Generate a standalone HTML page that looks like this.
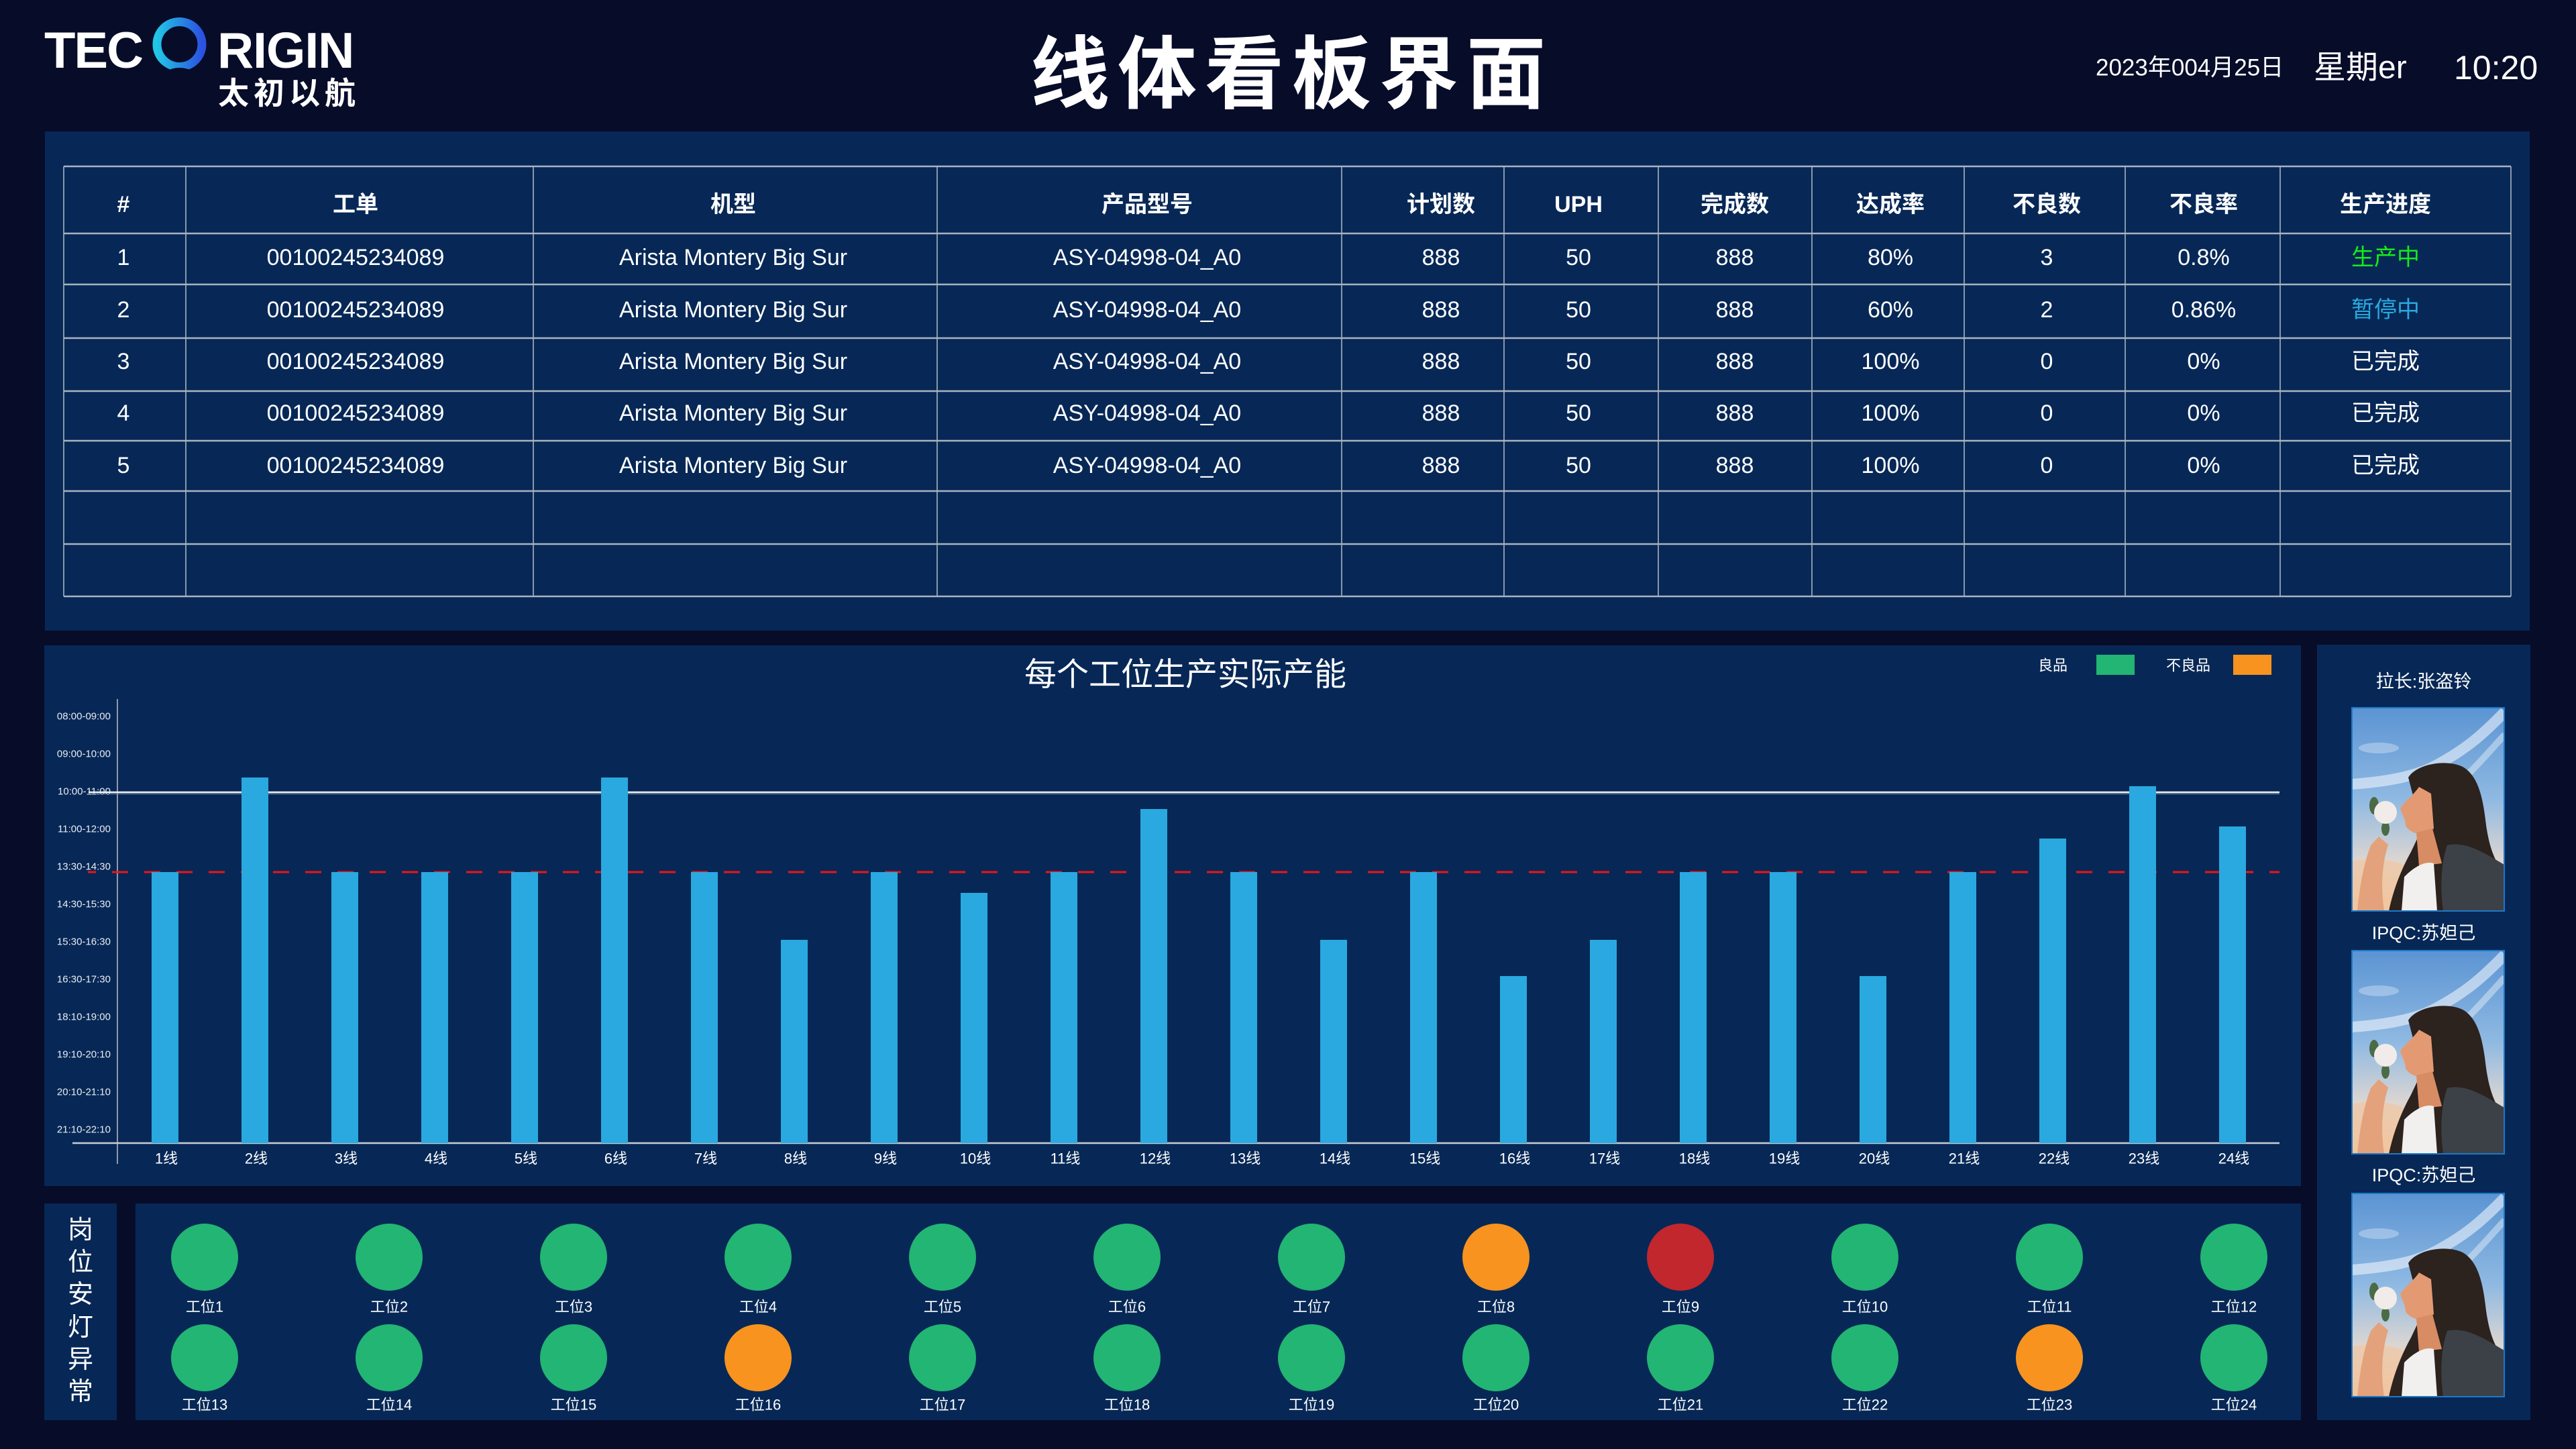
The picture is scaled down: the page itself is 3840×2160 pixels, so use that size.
<!DOCTYPE html>
<html>
<head>
<meta charset="utf-8">
<style>
html,body{margin:0;padding:0;background:#070c29;width:3840px;height:2160px;overflow:hidden;}
svg{display:block;}
text{font-family:"Liberation Sans","Noto Sans CJK SC",sans-serif;}
</style>
</head>
<body>
<svg width="3840" height="2160" viewBox="0 0 3840 2160" xmlns="http://www.w3.org/2000/svg">
<defs>
  <linearGradient id="ring" x1="0" y1="0" x2="1" y2="0">
    <stop offset="0" stop-color="#22c6e6"/>
    <stop offset="1" stop-color="#2b52e0"/>
  </linearGradient>
  <linearGradient id="sky" x1="0" y1="0" x2="0" y2="1">
    <stop offset="0" stop-color="#5b94d3"/>
    <stop offset="0.45" stop-color="#8fb9e2"/>
    <stop offset="0.75" stop-color="#dcd6d2"/>
    <stop offset="1" stop-color="#f0c59d"/>
  </linearGradient>
  <clipPath id="pc"><rect x="0" y="0" width="227" height="303"/></clipPath>
</defs>

<rect x="0" y="0" width="3840" height="2160" fill="#070c29"/>

<!-- panels -->
<rect x="67" y="196" width="3704" height="744" fill="#072856"/>
<rect x="66" y="962" width="3364" height="806" fill="#072856"/>
<rect x="3454" y="961" width="318" height="1156" fill="#072856"/>
<rect x="66" y="1794" width="108" height="323" fill="#072856"/>
<rect x="202" y="1794" width="3228" height="323" fill="#072856"/>

<!-- logo -->
<text x="66" y="101" font-size="76" font-weight="bold" fill="#ffffff" letter-spacing="-2">TEC</text>
<circle cx="267.5" cy="66" r="33.5" fill="none" stroke="url(#ring)" stroke-width="13"/>
<ellipse cx="267.5" cy="123" rx="30" ry="22" fill="#070c29"/>
<text x="324" y="101" font-size="75" font-weight="bold" fill="#ffffff" letter-spacing="-1">RIGIN</text>
<text x="325" y="139" font-size="46" font-weight="bold" fill="#ffffff" letter-spacing="7" dominant-baseline="central">太初以航</text>

<!-- title -->
<text x="1926" y="112" font-size="118" font-weight="bold" fill="#ffffff" letter-spacing="12" text-anchor="middle" dominant-baseline="central">线体看板界面</text>

<!-- date/time -->
<text x="3124" y="101" font-size="35" fill="#ffffff" dominant-baseline="central">2023年004月25日</text>
<text x="3449" y="101" font-size="48" fill="#ffffff" dominant-baseline="central">星期er</text>
<text x="3658" y="101" font-size="50" fill="#ffffff" dominant-baseline="central">10:20</text>

<!-- table lines -->
<g stroke="#b4bcc9" stroke-width="1.5">
  <line x1="95" y1="248" x2="95" y2="889"/>
  <line x1="277" y1="248" x2="277" y2="889"/>
  <line x1="795" y1="248" x2="795" y2="889"/>
  <line x1="1397" y1="248" x2="1397" y2="889"/>
  <line x1="2000" y1="248" x2="2000" y2="889"/>
  <line x1="2242" y1="248" x2="2242" y2="889"/>
  <line x1="2472" y1="248" x2="2472" y2="889"/>
  <line x1="2701" y1="248" x2="2701" y2="889"/>
  <line x1="2928" y1="248" x2="2928" y2="889"/>
  <line x1="3168" y1="248" x2="3168" y2="889"/>
  <line x1="3399" y1="248" x2="3399" y2="889"/>
  <line x1="3743" y1="248" x2="3743" y2="889"/>
</g>
<g stroke="#a9b2c1" stroke-width="2.5">
  <line x1="95" y1="248" x2="3743" y2="248"/>
  <line x1="95" y1="348" x2="3743" y2="348"/>
  <line x1="95" y1="424" x2="3743" y2="424"/>
  <line x1="95" y1="504" x2="3743" y2="504"/>
  <line x1="95" y1="583" x2="3743" y2="583"/>
  <line x1="95" y1="657" x2="3743" y2="657"/>
  <line x1="95" y1="732" x2="3743" y2="732"/>
  <line x1="95" y1="811" x2="3743" y2="811"/>
  <line x1="95" y1="889" x2="3743" y2="889"/>
</g>

<!-- table header -->
<g font-size="34" font-weight="bold" fill="#ffffff" text-anchor="middle" dominant-baseline="central">
  <text x="184" y="305">#</text>
  <text x="530" y="305">工单</text>
  <text x="1093" y="305">机型</text>
  <text x="1710" y="305">产品型号</text>
  <text x="2148" y="305">计划数</text>
  <text x="2353" y="305">UPH</text>
  <text x="2586" y="305">完成数</text>
  <text x="2818" y="305">达成率</text>
  <text x="3051" y="305">不良数</text>
  <text x="3285" y="305">不良率</text>
  <text x="3556" y="305">生产进度</text>
</g>

<!-- table body -->
<g font-size="34" fill="#ffffff" text-anchor="middle" dominant-baseline="central">
  <text x="184" y="384">1</text>
  <text x="530" y="384">00100245234089</text>
  <text x="1093" y="384">Arista Montery Big Sur</text>
  <text x="1710" y="384">ASY-04998-04_A0</text>
  <text x="2148" y="384">888</text>
  <text x="2353" y="384">50</text>
  <text x="2586" y="384">888</text>
  <text x="2818" y="384">80%</text>
  <text x="3051" y="384">3</text>
  <text x="3285" y="384">0.8%</text>
  <text x="3556" y="384" fill="#16ec16">生产中</text>

  <text x="184" y="462">2</text>
  <text x="530" y="462">00100245234089</text>
  <text x="1093" y="462">Arista Montery Big Sur</text>
  <text x="1710" y="462">ASY-04998-04_A0</text>
  <text x="2148" y="462">888</text>
  <text x="2353" y="462">50</text>
  <text x="2586" y="462">888</text>
  <text x="2818" y="462">60%</text>
  <text x="3051" y="462">2</text>
  <text x="3285" y="462">0.86%</text>
  <text x="3556" y="462" fill="#29a9e0">暂停中</text>

  <text x="184" y="539">3</text>
  <text x="530" y="539">00100245234089</text>
  <text x="1093" y="539">Arista Montery Big Sur</text>
  <text x="1710" y="539">ASY-04998-04_A0</text>
  <text x="2148" y="539">888</text>
  <text x="2353" y="539">50</text>
  <text x="2586" y="539">888</text>
  <text x="2818" y="539">100%</text>
  <text x="3051" y="539">0</text>
  <text x="3285" y="539">0%</text>
  <text x="3556" y="539">已完成</text>

  <text x="184" y="616">4</text>
  <text x="530" y="616">00100245234089</text>
  <text x="1093" y="616">Arista Montery Big Sur</text>
  <text x="1710" y="616">ASY-04998-04_A0</text>
  <text x="2148" y="616">888</text>
  <text x="2353" y="616">50</text>
  <text x="2586" y="616">888</text>
  <text x="2818" y="616">100%</text>
  <text x="3051" y="616">0</text>
  <text x="3285" y="616">0%</text>
  <text x="3556" y="616">已完成</text>

  <text x="184" y="694">5</text>
  <text x="530" y="694">00100245234089</text>
  <text x="1093" y="694">Arista Montery Big Sur</text>
  <text x="1710" y="694">ASY-04998-04_A0</text>
  <text x="2148" y="694">888</text>
  <text x="2353" y="694">50</text>
  <text x="2586" y="694">888</text>
  <text x="2818" y="694">100%</text>
  <text x="3051" y="694">0</text>
  <text x="3285" y="694">0%</text>
  <text x="3556" y="694">已完成</text>
</g>

<!-- chart title & legend -->
<text x="1767" y="1006" font-size="48" fill="#ffffff" text-anchor="middle" dominant-baseline="central">每个工位生产实际产能</text>
<text x="3038" y="992" font-size="22" fill="#ffffff" dominant-baseline="central">良品</text>
<rect x="3125" y="976" width="57" height="30" fill="#22b573"/>
<text x="3229" y="992" font-size="22" fill="#ffffff" dominant-baseline="central">不良品</text>
<rect x="3329" y="976" width="57" height="30" fill="#f7931e"/>

<!-- y labels -->
<g font-size="15" fill="#e8ecf2" text-anchor="end" dominant-baseline="central">
  <text x="165" y="1068">08:00-09:00</text>
  <text x="165" y="1124">09:00-10:00</text>
  <text x="165" y="1180">10:00-11:00</text>
  <text x="165" y="1236">11:00-12:00</text>
  <text x="165" y="1292">13:30-14:30</text>
  <text x="165" y="1348">14:30-15:30</text>
  <text x="165" y="1404">15:30-16:30</text>
  <text x="165" y="1460">16:30-17:30</text>
  <text x="165" y="1516">18:10-19:00</text>
  <text x="165" y="1572">19:10-20:10</text>
  <text x="165" y="1628">20:10-21:10</text>
  <text x="165" y="1684">21:10-22:10</text>
</g>

<!-- axes -->
<line x1="175" y1="1042" x2="175" y2="1735" stroke="#8e9aac" stroke-width="2"/>
<line x1="108" y1="1704" x2="3398" y2="1704" stroke="#c9cdd4" stroke-width="2.5"/>

<!-- reference lines -->
<line x1="132" y1="1181" x2="3398" y2="1181" stroke="#f2f4f7" stroke-width="2.5"/>
<line x1="132" y1="1183.5" x2="3398" y2="1183.5" stroke="#7d8aa0" stroke-width="1"/>
<line x1="131" y1="1300" x2="3398" y2="1300" stroke="#f01414" stroke-width="3" stroke-dasharray="24 24" stroke-dashoffset="12"/>

<!-- bars -->
<g fill="#29a9e0">
  <rect x="226" y="1300" width="40" height="404"/>
  <rect x="360" y="1159" width="40" height="545"/>
  <rect x="494" y="1300" width="40" height="404"/>
  <rect x="628" y="1300" width="40" height="404"/>
  <rect x="762" y="1300" width="40" height="404"/>
  <rect x="896" y="1159" width="40" height="545"/>
  <rect x="1030" y="1300" width="40" height="404"/>
  <rect x="1164" y="1401" width="40" height="303"/>
  <rect x="1298" y="1300" width="40" height="404"/>
  <rect x="1432" y="1331" width="40" height="373"/>
  <rect x="1566" y="1300" width="40" height="404"/>
  <rect x="1700" y="1206" width="40" height="498"/>
  <rect x="1834" y="1300" width="40" height="404"/>
  <rect x="1968" y="1401" width="40" height="303"/>
  <rect x="2102" y="1300" width="40" height="404"/>
  <rect x="2236" y="1455" width="40" height="249"/>
  <rect x="2370" y="1401" width="40" height="303"/>
  <rect x="2504" y="1300" width="40" height="404"/>
  <rect x="2638" y="1300" width="40" height="404"/>
  <rect x="2772" y="1455" width="40" height="249"/>
  <rect x="2906" y="1300" width="40" height="404"/>
  <rect x="3040" y="1250" width="40" height="454"/>
  <rect x="3174" y="1172" width="40" height="532"/>
  <rect x="3308" y="1232" width="40" height="472"/>
</g>

<!-- x labels -->
<g font-size="22" fill="#ffffff" text-anchor="middle" dominant-baseline="central">
  <text x="248" y="1727">1线</text>
  <text x="382" y="1727">2线</text>
  <text x="516" y="1727">3线</text>
  <text x="650" y="1727">4线</text>
  <text x="784" y="1727">5线</text>
  <text x="918" y="1727">6线</text>
  <text x="1052" y="1727">7线</text>
  <text x="1186" y="1727">8线</text>
  <text x="1320" y="1727">9线</text>
  <text x="1454" y="1727">10线</text>
  <text x="1588" y="1727">11线</text>
  <text x="1722" y="1727">12线</text>
  <text x="1856" y="1727">13线</text>
  <text x="1990" y="1727">14线</text>
  <text x="2124" y="1727">15线</text>
  <text x="2258" y="1727">16线</text>
  <text x="2392" y="1727">17线</text>
  <text x="2526" y="1727">18线</text>
  <text x="2660" y="1727">19线</text>
  <text x="2794" y="1727">20线</text>
  <text x="2928" y="1727">21线</text>
  <text x="3062" y="1727">22线</text>
  <text x="3196" y="1727">23线</text>
  <text x="3330" y="1727">24线</text>
</g>

<!-- right panel labels -->
<g font-size="27" fill="#ffffff" text-anchor="middle" dominant-baseline="central">
  <text x="3613" y="1016">拉长:张盗铃</text>
  <text x="3613" y="1391">IPQC:苏妲己</text>
  <text x="3613" y="1752">IPQC:苏妲己</text>
</g>

<!-- photo 1 -->
<g transform="translate(3506,1055)">
  <g clip-path="url(#pc)">
    <rect x="0" y="0" width="227" height="303" fill="url(#sky)"/>
    <ellipse cx="30" cy="285" rx="90" ry="60" fill="#f3c59c" opacity="0.6"/>
    <path d="M228,6 C195,40 170,62 125,86 C95,102 55,110 0,114" stroke="#eef4fb" stroke-width="16" opacity="0.6" fill="none"/>
    <path d="M228,40 C200,70 180,95 150,120" stroke="#eef4fb" stroke-width="10" opacity="0.45" fill="none"/>
    <ellipse cx="40" cy="60" rx="30" ry="8" fill="#eef4fb" opacity="0.35"/>
    <path d="M84,104 C96,84 140,76 165,88 C190,102 196,140 200,175 C205,210 214,232 227,245 L227,303 L55,303 C62,270 74,240 88,215 C95,200 100,190 104,180 Z" fill="#2c221e"/>
    <path d="M100,118 C92,130 78,140 72,150 C75,160 80,166 80,176 C86,186 100,190 112,188 L122,180 L118,128 Z" fill="#e39a73"/>
    <path d="M96,186 L120,180 L134,232 L100,236 Z" fill="#d88c63"/>
    <path d="M8,303 C12,262 18,232 28,205 L40,192 L54,204 C46,230 42,262 48,303 Z" fill="#e3a27c"/>
    <ellipse cx="33" cy="146" rx="7" ry="13" fill="#4a6b45"/>
    <ellipse cx="50" cy="180" rx="6" ry="11" fill="#4a6b45"/>
    <circle cx="50" cy="156" r="17" fill="#f1ece9"/>
    <path d="M142,205 C170,198 200,218 227,234 L227,303 L136,303 C131,268 133,230 142,205 Z" fill="#3c4147"/>
    <path d="M78,252 C94,236 110,228 122,232 L127,303 L74,303 Z" fill="#f2f0ee"/>
  </g>
  <rect x="0" y="0" width="227" height="303" fill="none" stroke="#1e78c8" stroke-width="2"/>
</g>
<!-- photo 2 -->
<g transform="translate(3506,1417)">
  <g clip-path="url(#pc)">
    <rect x="0" y="0" width="227" height="303" fill="url(#sky)"/>
    <ellipse cx="30" cy="285" rx="90" ry="60" fill="#f3c59c" opacity="0.6"/>
    <path d="M228,6 C195,40 170,62 125,86 C95,102 55,110 0,114" stroke="#eef4fb" stroke-width="16" opacity="0.6" fill="none"/>
    <path d="M228,40 C200,70 180,95 150,120" stroke="#eef4fb" stroke-width="10" opacity="0.45" fill="none"/>
    <ellipse cx="40" cy="60" rx="30" ry="8" fill="#eef4fb" opacity="0.35"/>
    <path d="M84,104 C96,84 140,76 165,88 C190,102 196,140 200,175 C205,210 214,232 227,245 L227,303 L55,303 C62,270 74,240 88,215 C95,200 100,190 104,180 Z" fill="#2c221e"/>
    <path d="M100,118 C92,130 78,140 72,150 C75,160 80,166 80,176 C86,186 100,190 112,188 L122,180 L118,128 Z" fill="#e39a73"/>
    <path d="M96,186 L120,180 L134,232 L100,236 Z" fill="#d88c63"/>
    <path d="M8,303 C12,262 18,232 28,205 L40,192 L54,204 C46,230 42,262 48,303 Z" fill="#e3a27c"/>
    <ellipse cx="33" cy="146" rx="7" ry="13" fill="#4a6b45"/>
    <ellipse cx="50" cy="180" rx="6" ry="11" fill="#4a6b45"/>
    <circle cx="50" cy="156" r="17" fill="#f1ece9"/>
    <path d="M142,205 C170,198 200,218 227,234 L227,303 L136,303 C131,268 133,230 142,205 Z" fill="#3c4147"/>
    <path d="M78,252 C94,236 110,228 122,232 L127,303 L74,303 Z" fill="#f2f0ee"/>
  </g>
  <rect x="0" y="0" width="227" height="303" fill="none" stroke="#1e78c8" stroke-width="2"/>
</g>
<!-- photo 3 -->
<g transform="translate(3506,1779)">
  <g clip-path="url(#pc)">
    <rect x="0" y="0" width="227" height="303" fill="url(#sky)"/>
    <ellipse cx="30" cy="285" rx="90" ry="60" fill="#f3c59c" opacity="0.6"/>
    <path d="M228,6 C195,40 170,62 125,86 C95,102 55,110 0,114" stroke="#eef4fb" stroke-width="16" opacity="0.6" fill="none"/>
    <path d="M228,40 C200,70 180,95 150,120" stroke="#eef4fb" stroke-width="10" opacity="0.45" fill="none"/>
    <ellipse cx="40" cy="60" rx="30" ry="8" fill="#eef4fb" opacity="0.35"/>
    <path d="M84,104 C96,84 140,76 165,88 C190,102 196,140 200,175 C205,210 214,232 227,245 L227,303 L55,303 C62,270 74,240 88,215 C95,200 100,190 104,180 Z" fill="#2c221e"/>
    <path d="M100,118 C92,130 78,140 72,150 C75,160 80,166 80,176 C86,186 100,190 112,188 L122,180 L118,128 Z" fill="#e39a73"/>
    <path d="M96,186 L120,180 L134,232 L100,236 Z" fill="#d88c63"/>
    <path d="M8,303 C12,262 18,232 28,205 L40,192 L54,204 C46,230 42,262 48,303 Z" fill="#e3a27c"/>
    <ellipse cx="33" cy="146" rx="7" ry="13" fill="#4a6b45"/>
    <ellipse cx="50" cy="180" rx="6" ry="11" fill="#4a6b45"/>
    <circle cx="50" cy="156" r="17" fill="#f1ece9"/>
    <path d="M142,205 C170,198 200,218 227,234 L227,303 L136,303 C131,268 133,230 142,205 Z" fill="#3c4147"/>
    <path d="M78,252 C94,236 110,228 122,232 L127,303 L74,303 Z" fill="#f2f0ee"/>
  </g>
  <rect x="0" y="0" width="227" height="303" fill="none" stroke="#1e78c8" stroke-width="2"/>
</g>

<!-- andon vertical label -->
<g font-size="38" fill="#ffffff" text-anchor="middle" dominant-baseline="central">
  <text x="120" y="1834">岗</text>
  <text x="120" y="1882">位</text>
  <text x="120" y="1930">安</text>
  <text x="120" y="1979">灯</text>
  <text x="120" y="2027">异</text>
  <text x="120" y="2075">常</text>
</g>

<!-- andon circles -->
<g>
  <circle cx="305" cy="1874" r="50" fill="#22b573"/>
  <circle cx="580" cy="1874" r="50" fill="#22b573"/>
  <circle cx="855" cy="1874" r="50" fill="#22b573"/>
  <circle cx="1130" cy="1874" r="50" fill="#22b573"/>
  <circle cx="1405" cy="1874" r="50" fill="#22b573"/>
  <circle cx="1680" cy="1874" r="50" fill="#22b573"/>
  <circle cx="1955" cy="1874" r="50" fill="#22b573"/>
  <circle cx="2230" cy="1874" r="50" fill="#f7931e"/>
  <circle cx="2505" cy="1874" r="50" fill="#c1272d"/>
  <circle cx="2780" cy="1874" r="50" fill="#22b573"/>
  <circle cx="3055" cy="1874" r="50" fill="#22b573"/>
  <circle cx="3330" cy="1874" r="50" fill="#22b573"/>

  <circle cx="305" cy="2024" r="50" fill="#22b573"/>
  <circle cx="580" cy="2024" r="50" fill="#22b573"/>
  <circle cx="855" cy="2024" r="50" fill="#22b573"/>
  <circle cx="1130" cy="2024" r="50" fill="#f7931e"/>
  <circle cx="1405" cy="2024" r="50" fill="#22b573"/>
  <circle cx="1680" cy="2024" r="50" fill="#22b573"/>
  <circle cx="1955" cy="2024" r="50" fill="#22b573"/>
  <circle cx="2230" cy="2024" r="50" fill="#22b573"/>
  <circle cx="2505" cy="2024" r="50" fill="#22b573"/>
  <circle cx="2780" cy="2024" r="50" fill="#22b573"/>
  <circle cx="3055" cy="2024" r="50" fill="#f7931e"/>
  <circle cx="3330" cy="2024" r="50" fill="#22b573"/>
</g>

<!-- andon labels -->
<g font-size="22" fill="#ffffff" text-anchor="middle" dominant-baseline="central">
  <text x="305" y="1948">工位1</text>
  <text x="580" y="1948">工位2</text>
  <text x="855" y="1948">工位3</text>
  <text x="1130" y="1948">工位4</text>
  <text x="1405" y="1948">工位5</text>
  <text x="1680" y="1948">工位6</text>
  <text x="1955" y="1948">工位7</text>
  <text x="2230" y="1948">工位8</text>
  <text x="2505" y="1948">工位9</text>
  <text x="2780" y="1948">工位10</text>
  <text x="3055" y="1948">工位11</text>
  <text x="3330" y="1948">工位12</text>

  <text x="305" y="2094">工位13</text>
  <text x="580" y="2094">工位14</text>
  <text x="855" y="2094">工位15</text>
  <text x="1130" y="2094">工位16</text>
  <text x="1405" y="2094">工位17</text>
  <text x="1680" y="2094">工位18</text>
  <text x="1955" y="2094">工位19</text>
  <text x="2230" y="2094">工位20</text>
  <text x="2505" y="2094">工位21</text>
  <text x="2780" y="2094">工位22</text>
  <text x="3055" y="2094">工位23</text>
  <text x="3330" y="2094">工位24</text>
</g>
</svg>
</body>
</html>
